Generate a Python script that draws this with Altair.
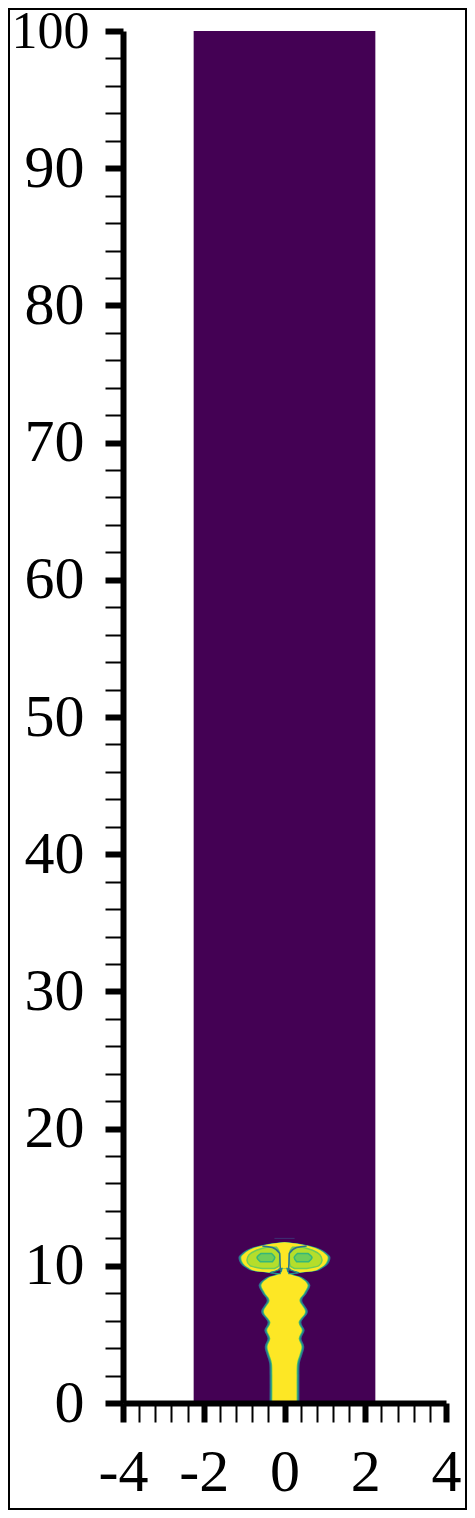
import altair as alt
import pandas as pd

# ---- axis tick values ----
x_major = [-4, -2, 0, 2, 4]
x_minor = [-3.6, -3.2, -2.8, -2.4, -1.6, -1.2, -0.8, -0.4,
           0.4, 0.8, 1.2, 1.6, 2.4, 2.8, 3.2, 3.6]
y_major = [0, 10, 20, 30, 40, 50, 60, 70, 80, 90, 100]
y_minor = [2, 4, 6, 8, 12, 14, 16, 18, 22, 24, 26, 28, 32, 34, 36, 38,
           42, 44, 46, 48, 52, 54, 56, 58, 62, 64, 66, 68, 72, 74, 76, 78,
           82, 84, 86, 88, 92, 94, 96, 98]

# ---- computational domain (purple field) ----
dom_x = [-2.25, 2.25]
dom_y = [0, 100]

# ---- plume stem: height and half-width ----
stem_y = [0.0, 2.0, 2.9, 3.5, 4.1, 4.7, 5.3, 5.9, 6.65, 7.45, 8.0, 8.6,
          9.1, 9.33, 9.5, 9.8]
stem_hw = [0.30, 0.30, 0.31, 0.37, 0.42, 0.35, 0.43, 0.35, 0.51, 0.37, 0.48, 0.57,
           0.41, 0.19, 0.10, 0.08]

# ---- plume cap (vortex ring): height and half-width ----
cap_y = [9.5, 9.58, 9.7, 9.85, 10.17, 10.6, 10.9, 11.25, 11.5, 11.65, 11.72]
cap_hw = [0.35, 0.62, 0.80, 0.89, 1.02, 1.07, 0.99, 0.80, 0.50, 0.22, 0.0]

# ---- purple gap under the lobes, beside the stem (right side; left mirrored) ----
notch_y = [9.42, 9.5, 9.6, 9.7, 9.82]
notch_in = [0.11, 0.10, 0.08, 0.07, 0.06]
notch_out = [0.12, 0.36, 0.24, 0.15, 0.07]

# ---- vortex lobe interior (left lobe; right lobe mirrored) ----
lobe_y = [9.8, 10.0, 10.4, 10.8, 11.1, 11.35]
lobe_xl = [-0.55, -0.85, -0.93, -0.88, -0.72, -0.45]
lobe_xr = [-0.25, -0.14, -0.12, -0.12, -0.14, -0.20]

core_y = [10.3, 10.6, 10.9]
core_xl = [-0.60, -0.68, -0.58]
core_xr = [-0.30, -0.24, -0.32]

# ---- stem edges inside the cap (left; right mirrored) ----
edge_x = [-0.10, -0.11, -0.12, -0.30, -0.55]
edge_y = [9.6, 10.2, 10.9, 11.33, 11.45]

# ---- faint line above the cap ----
top_x = [-0.25, 0.25]
top_y = 12.0

PURPLE = "#440154"
YELLOW = "#fde725"


def mirror(y, a, b):
    left = pd.DataFrame({"y": y, "a": a, "b": b, "side": "L"})
    right = pd.DataFrame({"y": y, "a": [-v for v in b], "b": [-v for v in a], "side": "R"})
    return pd.concat([left, right], ignore_index=True)


dom_df = pd.DataFrame({"x": [dom_x[0]], "x2": [dom_x[1]], "y": [dom_y[0]], "y2": [dom_y[1]]})
stem_df = pd.DataFrame({"y": stem_y, "hw": stem_hw})
cap_df = pd.DataFrame({"y": cap_y, "hw": cap_hw})
notch_df = mirror(notch_y, [-v for v in notch_out], [-v for v in notch_in])
lobe_df = mirror(lobe_y, lobe_xl, lobe_xr)
core_df = mirror(core_y, core_xl, core_xr)
edge_df = pd.concat([
    pd.DataFrame({"x": edge_x, "y": edge_y, "side": "L", "o": range(len(edge_x))}),
    pd.DataFrame({"x": [-v for v in edge_x], "y": edge_y, "side": "R", "o": range(len(edge_x))}),
], ignore_index=True)
top_df = pd.DataFrame({"x": [top_x[0]], "x2": [top_x[1]], "y": [top_y]})

xs = alt.Scale(domain=[-4, 4], nice=False, zero=False)
ys = alt.Scale(domain=[0, 100], nice=False, zero=False)

FONT = "Liberation Serif"

major_x_axis = alt.Axis(orient="bottom", values=x_major, labelExpr="datum.value + ''",
                        tickSize=19, tickWidth=6, tickColor="black",
                        domainWidth=6, domainColor="black",
                        labelFont=FONT, labelFontSize=60, labelColor="black",
                        labelPadding=21, labelFlush=False, labelOverlap=False,
                        grid=False, title=None, zindex=2)
major_y_axis = alt.Axis(orient="left", values=y_major, labelExpr="datum.value + ''",
                        tickSize=18, tickWidth=6, tickColor="black",
                        domainWidth=6, domainColor="black",
                        labelFont=FONT,
                        labelFontSize={"condition": {"test": "datum.value == 100", "value": 52},
                                       "value": 60},
                        labelPadding={"condition": {"test": "datum.value == 100", "value": 16},
                                      "value": 21},
                        labelColor="black",
                        labelFlush=False, labelOverlap=False,
                        labelBaseline="middle",
                        grid=False, title=None, zindex=2)
minor_x_axis = alt.Axis(orient="bottom", values=x_minor, labels=False, domain=False,
                        tickSize=19, tickWidth=2, tickColor="black",
                        grid=False, title=None, zindex=2)
minor_y_axis = alt.Axis(orient="left", values=y_minor, labels=False, domain=False,
                        tickSize=18, tickWidth=2, tickColor="black",
                        grid=False, title=None, zindex=2)

bg = alt.Chart(dom_df).mark_rect(color=PURPLE).encode(
    x=alt.X("x:Q", scale=xs, axis=major_x_axis), x2="x2",
    y=alt.Y("y:Q", scale=ys, axis=major_y_axis), y2="y2")

minor = alt.Chart(dom_df).mark_rect(opacity=0).encode(
    x=alt.X("x:Q", scale=xs, axis=minor_x_axis), x2="x2",
    y=alt.Y("y:Q", scale=ys, axis=minor_y_axis), y2="y2")


def sym_layer(df, d, color, interp):
    return alt.Chart(df).transform_calculate(
        lo=f"-datum.hw - {d}", hi=f"datum.hw + {d}"
    ).mark_area(color=color, orient="horizontal", interpolate=interp).encode(
        y=alt.Y("y:Q", scale=ys, axis=None),
        x=alt.X("lo:Q", scale=xs, axis=None), x2="hi:Q")


def pair_layer(df, fill, stroke=None, sw=0, interp="monotone"):
    kw = dict(color=fill, orient="horizontal", interpolate=interp)
    if stroke:
        kw.update(stroke=stroke, strokeWidth=sw)
    return alt.Chart(df).mark_area(**kw).encode(
        y=alt.Y("y:Q", scale=ys, axis=None),
        x=alt.X("a:Q", scale=xs, axis=None), x2="b:Q", detail="side:N")


layers = [bg]
for df, interp in [(cap_df, "monotone"), (stem_df, "cardinal")]:
    layers += [
        sym_layer(df, 0.07, "#31688e", interp),
        sym_layer(df, 0.045, "#21918c", interp),
        sym_layer(df, 0.02, "#5ec962", interp),
        sym_layer(df, 0.0, YELLOW, interp),
    ]

notch = pair_layer(notch_df, PURPLE, "#21918c", 1.2)
lobes = pair_layer(lobe_df, "#b5de2b", "#6ece58", 1.5)
cores = pair_layer(core_df, "#6ece58", "#35b779", 1.5)

edges = alt.Chart(edge_df).mark_line(color="#2c728e", strokeWidth=1.5,
                                     interpolate="monotone").encode(
    x=alt.X("x:Q", scale=xs, axis=None),
    y=alt.Y("y:Q", scale=ys, axis=None),
    detail="side:N", order="o:Q")

topline = alt.Chart(top_df).mark_rule(color="#3b528b", strokeWidth=1, opacity=0.6).encode(
    x=alt.X("x:Q", scale=xs, axis=None), x2="x2",
    y=alt.Y("y:Q", scale=ys, axis=None))

border = alt.Chart(dom_df).mark_rect(fill=None, stroke="black", strokeWidth=2).encode(
    x=alt.value(-114), x2=alt.value(343), y=alt.value(-22), y2=alt.value(1478))

layers += [notch, lobes, cores, edges, topline, minor, border]

chart = alt.layer(*layers).resolve_axis(x="independent", y="independent").properties(
    width=323, height=1372,
    autosize=alt.AutoSizeParams(type="none"),
    padding={"left": 115, "top": 23, "right": 21, "bottom": 107},
    background="white",
).configure_view(stroke=None)

chart.save("out.html", embed_options={"renderer": "svg", "actions": False})
